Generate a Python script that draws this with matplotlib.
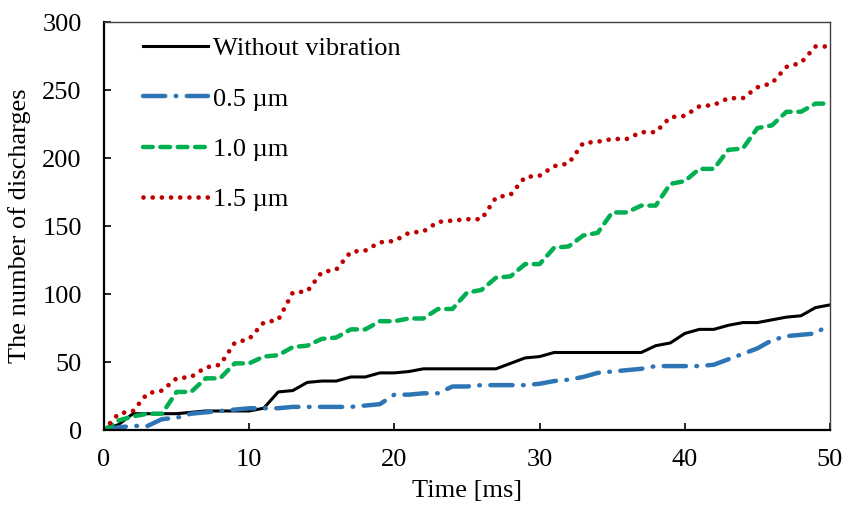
import numpy as np
import matplotlib
matplotlib.use('Agg')
from matplotlib import pyplot as plt

plt.rcParams['font.family'] = ['Liberation Serif', 'DejaVu Serif']
plt.rcParams['lines.scale_dashes'] = False

time_ms = list(range(0, 51))

without_vib = [0, 4, 12, 12, 12, 12, 13, 14, 14, 14,
               14, 16, 28, 29, 35, 36, 36, 39, 39, 42,
               42, 43, 45, 45, 45, 45, 45, 45, 49, 53,
               54, 57, 57, 57, 57, 57, 57, 57, 62, 64,
               71, 74, 74, 77, 79, 79, 81, 83, 84, 90,
               92]
amp_05 = [0, 2, 3, 3, 8, 9, 12, 13, 14, 15,
          16, 16, 16, 17, 17, 17, 17, 17, 18, 19,
          26, 26, 27, 27, 32, 32, 33, 33, 33, 33,
          34, 36, 37, 39, 42, 43, 44, 45, 47, 47,
          47, 47, 48, 52, 56, 60, 66, 69, 70, 71,
          78]
amp_10 = [0, 7, 10, 12, 12, 28, 28, 38, 38, 49,
          49, 54, 55, 61, 62, 67, 68, 74, 74, 80,
          80, 82, 82, 89, 89, 101, 103, 112, 113, 122,
          122, 134, 135, 143, 145, 160, 160, 165, 165, 181,
          183, 192, 192, 206, 207, 222, 224, 234, 234, 240,
          240]
amp_15 = [0, 12, 14, 27, 29, 38, 39, 46, 48, 64,
          67, 79, 81, 101, 102, 116, 118, 131, 132, 138,
          139, 145, 146, 153, 154, 155, 155, 171, 173, 186,
          187, 194, 196, 211, 212, 214, 214, 219, 219, 230,
          231, 238, 239, 244, 244, 252, 255, 267, 270, 282,
          282]

fs = 19

fig = plt.figure(figsize=(8.44, 5.11), dpi=100)
ax = fig.add_axes([0.1232, 0.1585, 0.8602, 0.7984])

ax.plot(time_ms, without_vib, color='black', lw=2.2, label='Without vibration')
ax.plot(time_ms, amp_05, color='#2e75b6', lw=3.2, dashes=(16, 7.5, 0.5, 7.5),
        dash_capstyle='round', label='0.5 µm')
ax.plot(time_ms, amp_10, color='#00b050', lw=3.2, dashes=(7, 5.5),
        dash_capstyle='round', label='1.0 µm')
ax.plot(time_ms, amp_15, color='#c00000', lw=3.4, dashes=(0.01, 6.6),
        dash_capstyle='round', label='1.5 µm')

ax.set_xlim(0, 50)
ax.set_ylim(0, 300)
ax.set_xticks(np.arange(0, 51, 10))
ax.set_yticks(np.arange(0, 301, 50))
ax.tick_params(direction='in', length=5, width=1.2, labelsize=fs)
ax.tick_params(axis='x', pad=14)
ax.tick_params(axis='y', pad=16)

for side in ['left', 'bottom']:
    ax.spines[side].set_linewidth(1.6)
for side in ['top', 'right']:
    ax.spines[side].set_linewidth(1.0)
    ax.spines[side].set_color('#404040')

ax.set_xlabel('Time [ms]', fontsize=fs, labelpad=6)
ax.set_ylabel('The number of discharges', fontsize=fs, labelpad=8)

leg = ax.legend(loc='upper left', frameon=False, fontsize=fs, handlelength=2.45,
                handletextpad=0.2, labelspacing=1.02, borderaxespad=0.0,
                bbox_to_anchor=(0.039, 0.99))

plt.savefig('out.png', dpi=100)
